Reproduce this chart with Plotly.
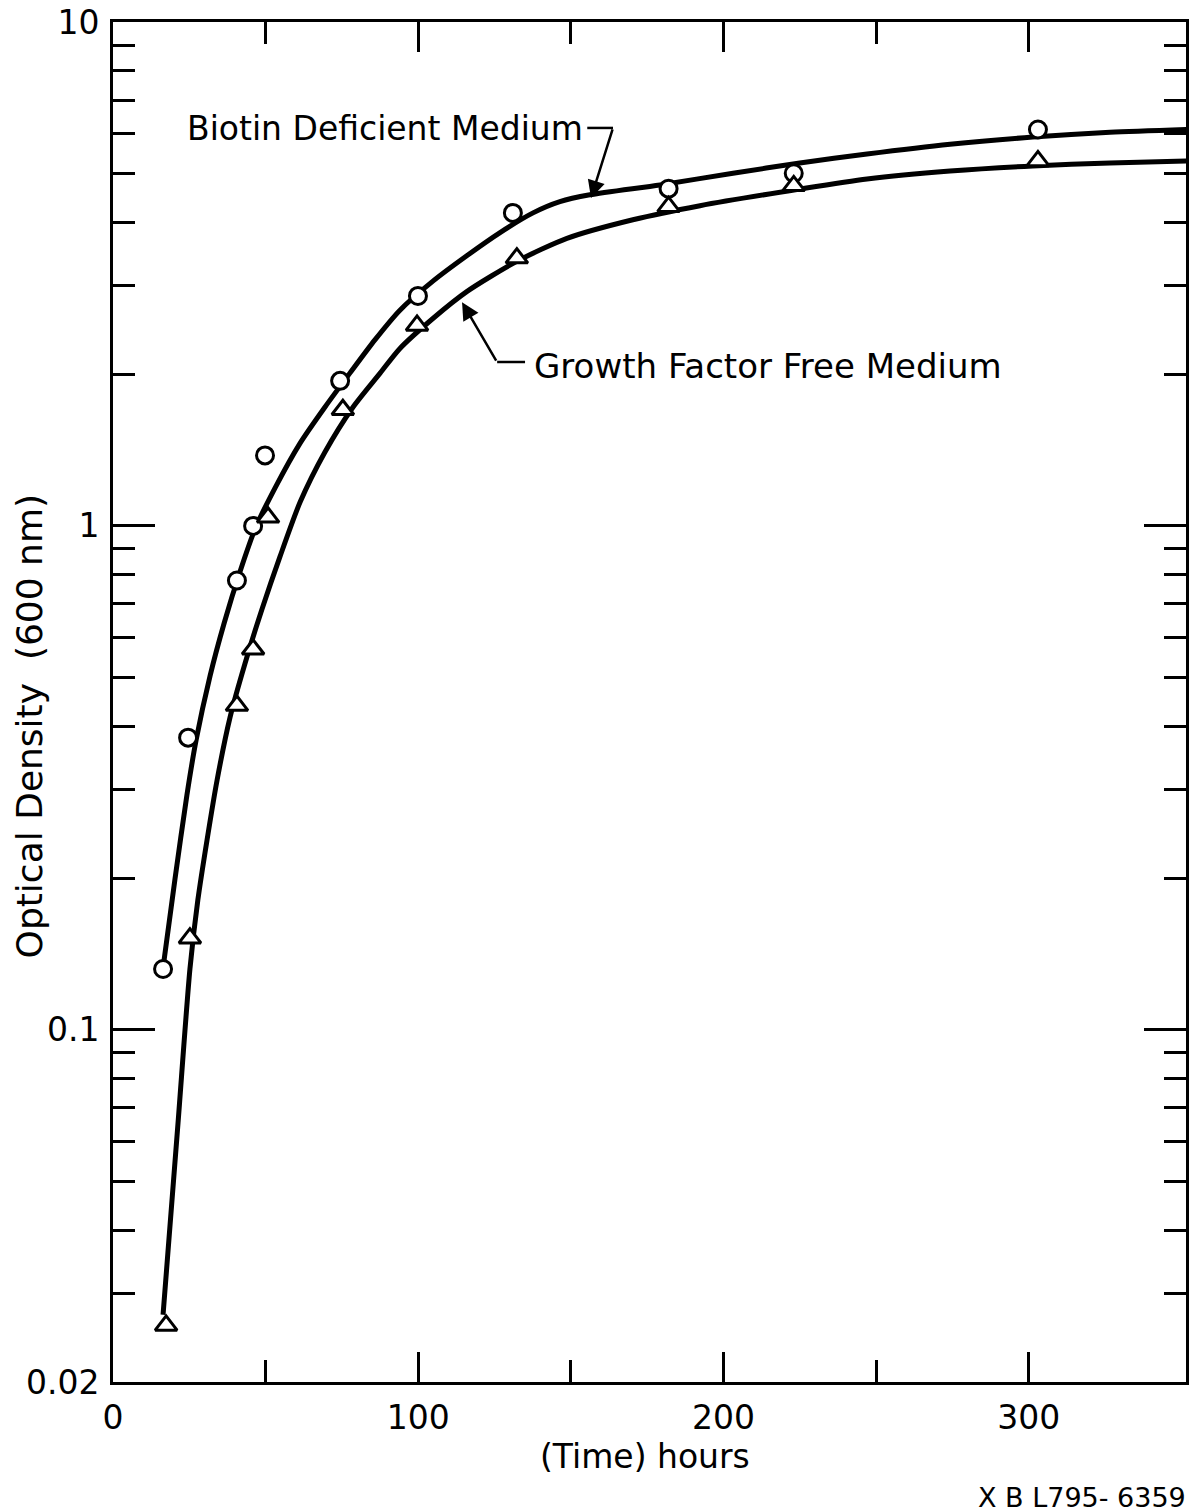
import numpy as np
import plotly.graph_objects as go

# ---- data ----
# Biotin Deficient Medium (open circles)
bio_t = [16.4, 24.6, 40.6, 45.9, 49.8, 74.4, 99.9, 131.0, 182.0, 223.0, 303.0]
bio_od = [0.132, 0.380, 0.779, 1.00, 1.38, 1.94, 2.86, 4.18, 4.67, 5.01, 6.12]

# Growth Factor Free Medium (open triangles)
gff_t = [17.4, 25.2, 40.6, 45.9, 50.8, 75.3, 99.6, 132.3, 182.0, 223.0, 303.0]
gff_od = [0.0259, 0.152, 0.44, 0.569, 1.04, 1.70, 2.50, 3.40, 4.30, 4.73, 5.30]

# hand-drawn fitted curves
bio_curve_t = [16.7, 20.3, 24.2, 27.2, 31.8, 36.4, 41.6, 46.8, 53.1, 61.3, 69.4, 77.6,
               85.8, 94.0, 104.8, 116.0, 126.8, 137.6, 146.4, 156.2, 179.2, 203.1,
               225.0, 247.0, 274.2, 301.3, 326.6, 351.8]
bio_curve_od = [0.137, 0.199, 0.292, 0.375, 0.504, 0.641, 0.811, 0.995, 1.19, 1.46, 1.72, 2.01,
                2.34, 2.68, 3.06, 3.44, 3.82, 4.18, 4.40, 4.54, 4.75, 5.01,
                5.25, 5.47, 5.72, 5.91, 6.04, 6.12]

gff_curve_t = [16.4, 21.3, 25.2, 27.8, 30.8, 34.1, 38.3, 43.2, 48.8, 54.7, 61.3, 69.4, 78.6,
               87.5, 94.0, 104.8, 116.0, 132.3, 148.7, 170.3, 192.3, 225.0, 247.0,
               274.2, 301.3, 326.6, 351.8]
gff_curve_od = [0.0272, 0.0653, 0.132, 0.181, 0.238, 0.313, 0.416, 0.532, 0.683, 0.869, 1.115,
                1.40, 1.72, 2.01, 2.25, 2.58, 2.92, 3.35, 3.72, 4.05, 4.32, 4.66, 4.88,
                5.06, 5.18, 5.25, 5.30]

# axis ticks
x_major = [0, 100, 200, 300]
x_major_text = ["0", "100", "200", "300"]
x_minor = [50, 150, 250]
y_major = [0.02, 0.1, 1, 10]
y_major_text = ["0.02", "0.1", "1", "10"]
y_minor = [m * d for d in (0.01, 0.1, 1) for m in range(2, 10)]

FONT = "DejaVu Sans"

fig = go.Figure()
for ct, cy in ((bio_curve_t, bio_curve_od), (gff_curve_t, gff_curve_od)):
    fig.add_trace(go.Scatter(x=ct, y=cy, mode="lines",
                             line=dict(color="black", width=5, shape="spline", smoothing=0.7),
                             hoverinfo="skip", showlegend=False))
fig.add_trace(go.Scatter(x=bio_t, y=bio_od, mode="markers", name="Biotin Deficient Medium",
                         marker=dict(symbol="circle", size=17, color="white",
                                     line=dict(color="black", width=3)),
                         showlegend=False))
fig.add_trace(go.Scatter(x=gff_t, y=gff_od, mode="markers", name="Growth Factor Free Medium",
                         marker=dict(symbol="triangle-up", size=19, color="white",
                                     line=dict(color="black", width=3)),
                         showlegend=False))

fig.update_layout(
    width=1198, height=1512,
    margin=dict(l=113, r=12, t=22, b=130, autoexpand=False),
    paper_bgcolor="white", plot_bgcolor="white",
    font=dict(family=FONT, color="black"),
    showlegend=False,
)

fig.update_xaxes(
    range=[0, 351.5], showgrid=False, zeroline=False, automargin=False,
    showline=True, linecolor="black", linewidth=3, mirror="allticks",
    ticks="inside", ticklen=30, tickwidth=3, tickcolor="black",
    tickmode="array", tickvals=x_major, ticktext=x_major_text,
    tickfont=dict(size=33, family=FONT), ticklabelstandoff=4,
    minor=dict(tickmode="array", tickvals=x_minor, ticks="inside", ticklen=22,
               tickwidth=3, tickcolor="black", showgrid=False),
)
fig.update_yaxes(
    type="log", range=[np.log10(0.02), 1.0], showgrid=False, zeroline=False, automargin=False,
    showline=True, linecolor="black", linewidth=3, mirror="allticks",
    ticks="inside", ticklen=42, tickwidth=3, tickcolor="black",
    tickmode="array", tickvals=y_major, ticktext=y_major_text,
    tickfont=dict(size=33, family=FONT), ticklabelstandoff=4,
    minor=dict(tickmode="array", tickvals=y_minor, ticks="inside", ticklen=22,
               tickwidth=3, tickcolor="black", showgrid=False),
)

# labels
fig.add_annotation(xref="paper", yref="paper", x=0.0671, y=0.922,
                   text="Biotin Deficient Medium", showarrow=False,
                   xanchor="left", yanchor="middle", font=dict(size=33, family=FONT))
fig.add_annotation(xref="paper", yref="paper", x=0.3905, y=0.747,
                   text="Growth Factor Free Medium", showarrow=False,
                   xanchor="left", yanchor="middle", font=dict(size=34, family=FONT))

# leader lines
fig.add_shape(type="line", xref="paper", yref="paper", x0=0.442, x1=0.466, y0=0.9221, y1=0.9221,
              line=dict(color="black", width=2.5))
fig.add_annotation(xref="paper", yref="paper", x=0.4455, y=0.8706, ax=22, ay=-70,
                   text="", showarrow=True, arrowhead=2, arrowsize=1.4, arrowwidth=2.5,
                   arrowcolor="black")
fig.add_shape(type="line", xref="paper", yref="paper", x0=0.358, x1=0.384, y0=0.75, y1=0.75,
              line=dict(color="black", width=2.5))
fig.add_annotation(xref="paper", yref="paper", x=0.3253, y=0.794, ax=35, ay=60,
                   text="", showarrow=True, arrowhead=2, arrowsize=1.4, arrowwidth=2.5,
                   arrowcolor="black")

# axis titles
fig.add_annotation(xref="paper", yref="paper", x=-0.0774, y=0.482,
                   text="Optical Density  (600 nm)", showarrow=False, textangle=-90,
                   xanchor="center", yanchor="middle", font=dict(size=36, family=FONT))
fig.add_annotation(xref="paper", yref="paper", x=0.4958, y=-0.0551,
                   text="(Time) hours", showarrow=False,
                   xanchor="center", yanchor="middle", font=dict(size=33, family=FONT))
fig.add_annotation(xref="paper", yref="paper", x=1.0019, y=-0.0846,
                   text="X B L795- 6359", showarrow=False,
                   xanchor="right", yanchor="middle", font=dict(size=27, family=FONT))

fig.write_html("out.html")
